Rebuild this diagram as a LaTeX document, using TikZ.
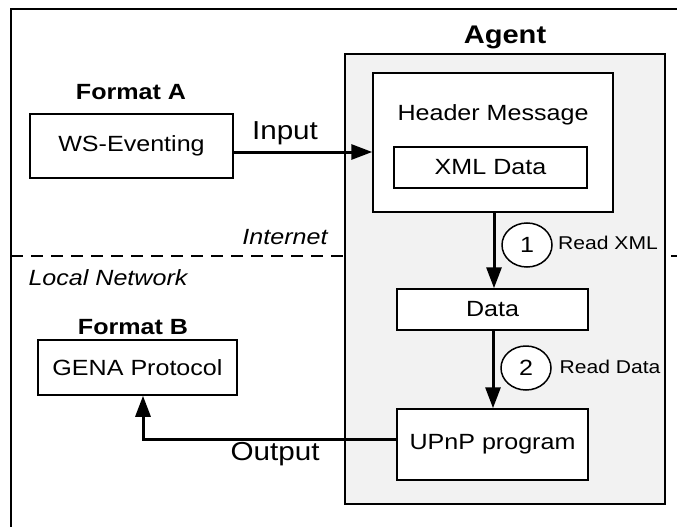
\documentclass[tikz,border=0pt]{standalone}
\usepackage{fontspec}
\setmainfont{Liberation Sans}[FakeStretch=1.14]
\usetikzlibrary{arrows.meta,shapes.geometric}
\definecolor{agentgray}{RGB}{242,242,242}

\begin{document}
\begin{tikzpicture}[
  x=1pt, y=-1pt,
  box/.style={draw, fill=white, line width=1.5pt, inner sep=0pt,
    font=\fontsize{22}{26}\selectfont},
  flow/.style={line width=3pt, -{Triangle[length=21pt,width=15pt]}},
  title/.style={font=\bfseries\fontsize{22}{26}\selectfont},
  num/.style={draw, ellipse, fill=white, line width=1.5pt, inner sep=0pt,
    minimum width=50pt, minimum height=44pt, font=\fontsize{22}{26}\selectfont},
  note/.style={font=\fontsize{18.5}{22}\selectfont},
  io/.style={font=\fontsize{26}{30}\selectfont},
  zone/.style={font=\itshape\fontsize{22}{26}\selectfont}
]
\useasboundingbox (0,0) rectangle (677,527);
\clip (0,0) rectangle (677,527);

% frame and network border
\draw[line width=1.5pt] (11,9) rectangle (700,560);
\draw[line width=1.5pt, dash pattern=on 12pt off 8pt] (11,256) -- (677,256);
\node[zone] (internet) at (285,237) {Internet};
\node[zone] (localnet) at (108,278) {Local Network};

% agent
\node[draw, fill=agentgray, line width=1.5pt, minimum width=320pt,
  minimum height=450pt] (agent) at (505,279) {};
\node[font=\bfseries\fontsize{25.5}{30}\selectfont] (agenttitle) at (505,37) {Agent};
\node[box, minimum width=240pt, minimum height=139pt] (header) at (493,142.5) {};
\node[box, draw=none, fill=none] (headertext) at (493,115) {Header Message};
\node[box, minimum width=193pt, minimum height=41pt] (xml) at (490.5,167.5) {XML Data};
\node[box, minimum width=191pt, minimum height=41pt] (data) at (492.5,309.5) {Data};
\node[box, minimum width=191pt, minimum height=71pt] (upnp) at (492.5,444.5) {UPnP program};

% formats
\node[title] (fmta) at (131,92) {Format A};
\node[box, minimum width=203pt, minimum height=64pt] (ws) at (131.5,146) {WS-Eventing};
\node[title] (fmtb) at (133,327) {Format B};
\node[box, minimum width=199pt, minimum height=55pt] (gena) at (137.5,367.5) {GENA Protocol};

% steps
\draw[flow] (header.south -| 494,0) -- (data.north -| 494,0);
\node[num] (one) at (527,245) {1};
\node[note] (readxml) at (608,243) {Read XML};
\draw[flow] (data.south -| 493,0) -- (upnp.north -| 493,0);
\node[num] (two) at (526,368) {2};
\node[note] (readdata) at (610,367) {Read Data};

% input and output
\draw[flow] (ws.east |- 0,152) -- (header.west |- 0,152);
\node[io] (input) at (285,133) {Input};
\coordinate (bend) at (143,439);
\draw[flow] (upnp.west |- bend) -- (bend) -- (bend |- gena.south);
\node[io] (output) at (275,454) {Output};
\end{tikzpicture}
\end{document}
